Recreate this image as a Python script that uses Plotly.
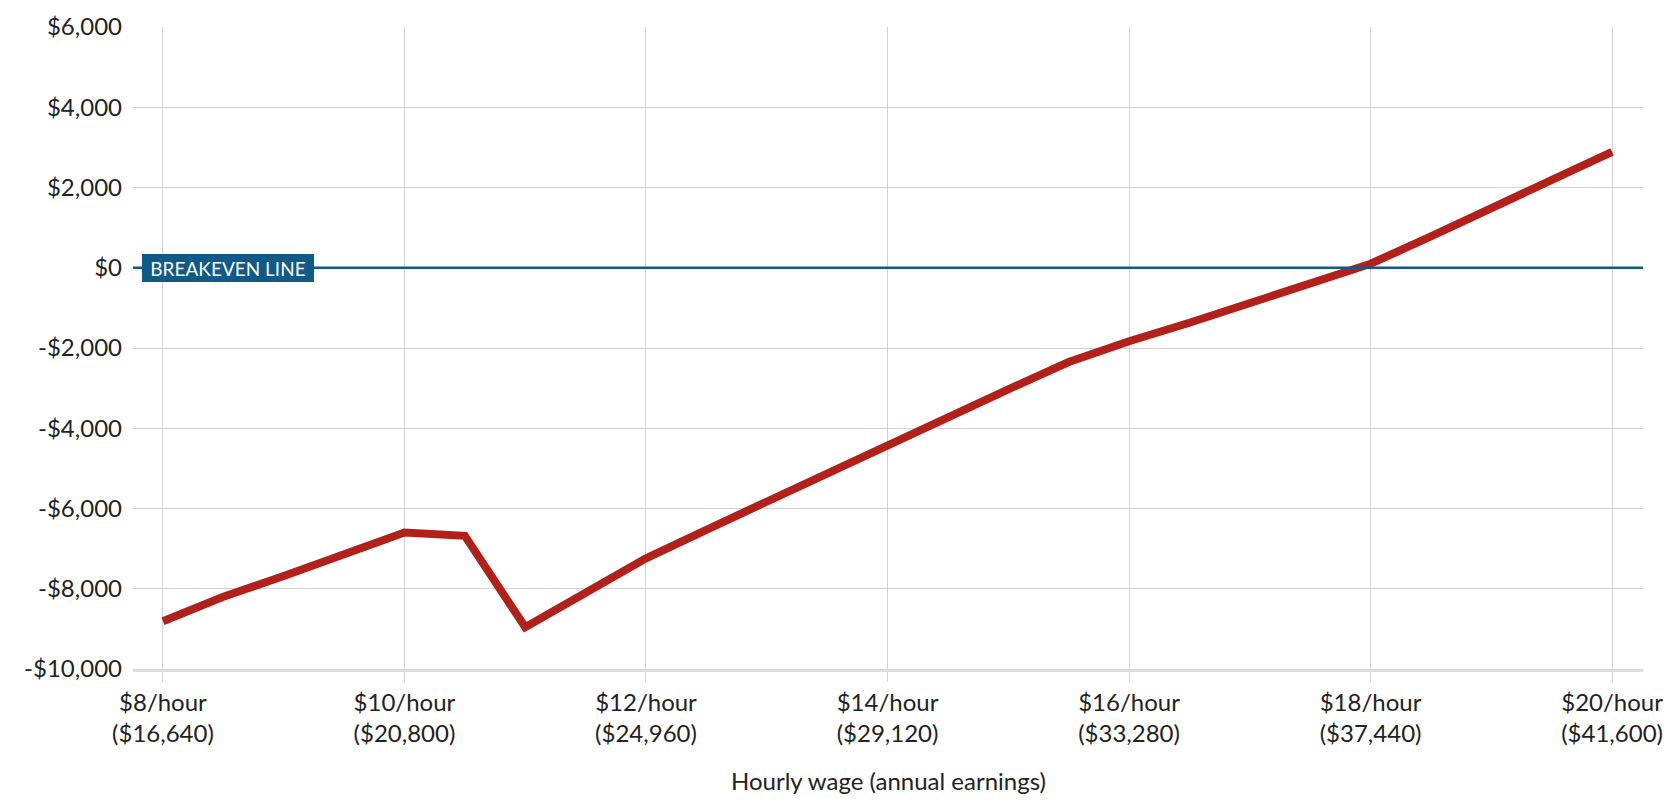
import plotly.graph_objects as go

# ---- data ----
hourly_wage = [8, 8.5, 9, 9.5, 10, 10.5, 11, 11.5, 12, 12.5, 13, 13.5, 14,
               14.5, 15, 15.5, 16, 16.5, 17, 17.5, 18, 18.5, 19, 19.5, 20]
net_gain = [-8810, -8200, -7680, -7150, -6600, -6680, -8960, -8100, -7240,
            -6530, -5820, -5110, -4400, -3720, -3030, -2350, -1830, -1370,
            -890, -400, 100, 780, 1480, 2200, 2890]

x_tick_vals = [8, 10, 12, 14, 16, 18, 20]
x_tick_text = ["$8/hour<br>($16,640)", "$10/hour<br>($20,800)",
               "$12/hour<br>($24,960)", "$14/hour<br>($29,120)",
               "$16/hour<br>($33,280)", "$18/hour<br>($37,440)",
               "$20/hour<br>($41,600)"]
y_tick_vals = [6000, 4000, 2000, 0, -2000, -4000, -6000, -8000, -10000]
y_tick_text = ["$6,000", "$4,000", "$2,000", "$0", "-$2,000", "-$4,000",
               "-$6,000", "-$8,000", "-$10,000"]
breakeven_label = "BREAKEVEN LINE"
x_title = "Hourly wage (annual earnings)"

RED = "#b3201a"
BLUE = "#0f5a86"
FONT = "Lato"
TXT = "#222222"

fig = go.Figure()
fig.add_trace(go.Scatter(
    x=hourly_wage, y=net_gain, mode="lines",
    line=dict(color=RED, width=8),
    hoverinfo="skip", showlegend=False,
))

fig.add_shape(type="line", xref="paper", yref="y", x0=0, x1=1, y0=0, y1=0,
              line=dict(color=BLUE, width=2.5), layer="above")

fig.add_annotation(
    x=8.54, y=0, xref="x", yref="y", text=breakeven_label, showarrow=False,
    font=dict(family=FONT, size=19, color="white"),
    bgcolor=BLUE, width=168, height=24, borderpad=2, borderwidth=0,
    xanchor="center", yanchor="middle",
)

fig.add_annotation(
    x=0.5, y=-0.174, xref="paper", yref="paper", text=x_title,
    showarrow=False, font=dict(family=FONT, size=24, color=TXT),
    xanchor="center", yanchor="middle",
)

fig.update_layout(
    width=1656, height=787,
    margin=dict(l=125, r=21, t=19, b=126, autoexpand=False),
    paper_bgcolor="white", plot_bgcolor="white",
    font=dict(family=FONT, size=24, color=TXT),
    showlegend=False,
)
fig.update_xaxes(
    automargin=False,
    range=[7.752, 20.256], tickvals=x_tick_vals, ticktext=x_tick_text,
    showgrid=True, gridcolor="#d2d2d2", gridwidth=1.2,
    ticks="outside", ticklen=10, tickcolor="#d2d2d2", tickwidth=1.2,
    showline=True, linecolor="#dcdcdc", linewidth=2.5,
    zeroline=False, tickfont=dict(family=FONT, size=24, color=TXT),
)
fig.update_yaxes(
    automargin=False,
    range=[-10000, 6000], tickvals=y_tick_vals, ticktext=y_tick_text,
    showgrid=True, gridcolor="#d2d2d2", gridwidth=1.2,
    ticks="", zeroline=False, showline=False, ticklabelstandoff=10,
    tickfont=dict(family=FONT, size=24, color=TXT),
)

fig.write_html("out.html")
